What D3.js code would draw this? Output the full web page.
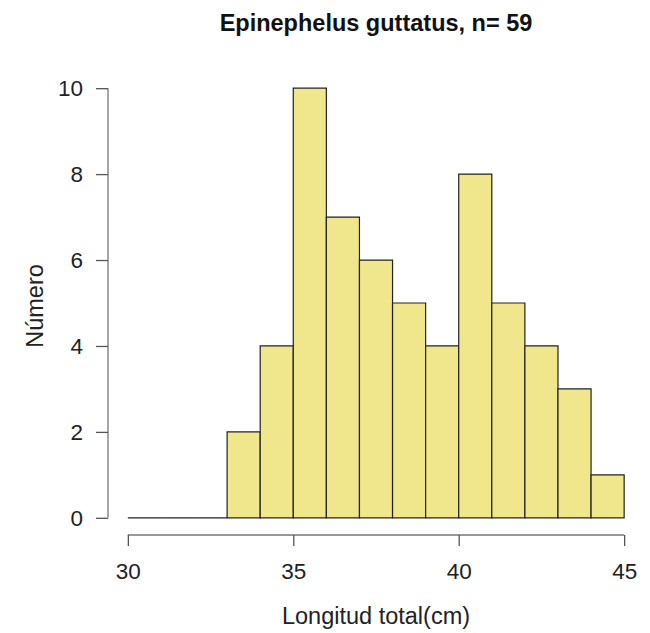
<!DOCTYPE html>
<html><head><meta charset="utf-8">
<script src="https://cdn.jsdelivr.net/npm/d3@7"></script>
<style>body{margin:0;background:#fff;} svg{display:block;}</style>
</head><body>
<script>
const binStarts = [30,31,32,33,34,35,36,37,38,39,40,41,42,43,44];
const counts    = [0, 0, 0, 2, 4, 10, 7, 6, 5, 4, 8, 5, 4, 3, 1];
const xTicks = [30,35,40,45];
const yTicks = [0,2,4,6,8,10];
const title = "Epinephelus guttatus, n= 59";
const xLabel = "Longitud total(cm)";
const yLabel = "Número";

const W = 650, H = 633;
const svg = d3.select("body").append("svg").attr("width", W).attr("height", H);
const font = "'Liberation Sans', Arial, sans-serif";

const x = d3.scaleLinear().domain([29.4, 45.6]).range([108, 644]);
const y = d3.scaleLinear().domain([-0.4, 10.4]).range([535, 71]);

svg.append("g").selectAll("path").data(binStarts).join("path")
  .attr("d", (d, i) => `M${x(d)},${y(0)}V${y(counts[i])}H${x(d + 1)}V${y(0)}Z`)
  .attr("fill", "#F0E68C")
  .attr("stroke", "#222")
  .attr("stroke-width", 1.2);

// x axis
const xa = svg.append("g").attr("transform", `translate(0,${y(-0.4)})`)
  .call(d3.axisBottom(x).tickValues(xTicks).tickSize(11).tickPadding(17).tickSizeOuter(0));
xa.select(".domain").attr("d", `M${x(30)},0H${x(45)}`).attr("stroke", "#777").attr("stroke-width", 1.3);
xa.selectAll(".tick line").attr("stroke", "#555").attr("stroke-width", 1.3);
xa.selectAll("text").attr("font-family", font).attr("font-size", 22.5).attr("fill", "#222");

// y axis
const ya = svg.append("g").attr("transform", `translate(${x(29.4)},0)`)
  .call(d3.axisLeft(y).tickValues(yTicks).tickSize(12).tickPadding(13).tickSizeOuter(0));
ya.select(".domain").attr("d", `M0,${y(0)}V${y(10)}`).attr("stroke", "#777").attr("stroke-width", 1.3);
ya.selectAll(".tick line").attr("stroke", "#555").attr("stroke-width", 1.3);
ya.selectAll("text").attr("font-family", font).attr("font-size", 22.5).attr("fill", "#222");

svg.append("text").attr("x", 376).attr("y", 31).attr("text-anchor", "middle")
  .attr("font-family", font).attr("font-weight", "bold").attr("font-size", 23.5).attr("fill", "#111")
  .text(title);
svg.append("text").attr("x", 376).attr("y", 624).attr("text-anchor", "middle")
  .attr("font-family", font).attr("font-size", 23.5).attr("fill", "#222").text(xLabel);
svg.append("text").attr("transform", "translate(43,306) rotate(-90)").attr("text-anchor", "middle")
  .attr("font-family", font).attr("font-size", 23.5).attr("fill", "#222").text(yLabel);
</script>
</body></html>
